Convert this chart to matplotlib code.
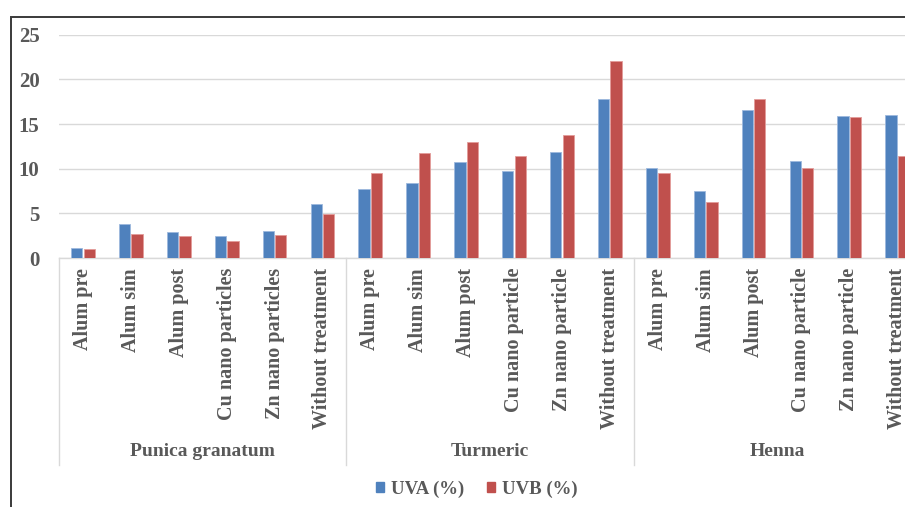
import numpy as np
import matplotlib
matplotlib.use("Agg")
import matplotlib.pyplot as plt
from matplotlib.patches import Patch, Rectangle
from matplotlib.lines import Line2D
import matplotlib.transforms as mtransforms

groups = ["Punica granatum", "Turmeric", "Henna"]
treatments = [
    ["Alum pre", "Alum sim", "Alum post", "Cu nano particles", "Zn nano particles", "Without treatment"],
    ["Alum pre", "Alum sim", "Alum post", "Cu nano particle", "Zn nano particle", "Without treatment"],
    ["Alum pre", "Alum sim", "Alum post", "Cu nano particle", "Zn nano particle", "Without treatment"],
]
uva = [1.17, 3.81, 2.92, 2.51, 3.07, 6.05,
       7.78, 8.41, 10.73, 9.72, 11.82, 17.76,
       10.06, 7.48, 16.56, 10.81, 15.89, 15.96]
uvb = [1.05, 2.73, 2.43, 1.95, 2.58, 4.93,
       9.57, 11.74, 12.97, 11.40, 13.72, 22.0,
       9.50, 6.32, 17.79, 10.06, 15.81, 11.40]
yticks = [0, 5, 10, 15, 20, 25]

BLUE = "#4F81BD"
RED = "#C0504D"
TXT = "#595959"
GRID = "#D9D9D9"
FONT = "Liberation Serif"

W, H = 905, 507
fig = plt.figure(figsize=(W / 100, H / 100), dpi=100)

# plot area in pixels: x0=59, zero line at 258, top (25) at 34.7, 47.9 px per category
px0, py0, ptop, cw = 59, 258, 34.7, 47.9
n = sum(len(t) for t in treatments)
ax = fig.add_axes([px0 / W, 1 - py0 / H, n * cw / W, (py0 - ptop) / H])

x = np.arange(n) + 0.5
bw = 0.235
ax.bar(x - 0.13, uva, bw, color=BLUE, edgecolor="#9DB9DE", linewidth=0.6, zorder=3)
ax.bar(x + 0.13, uvb, bw, color=RED, edgecolor="#E39C9A", linewidth=0.6, zorder=3)

ax.set_xlim(0, n)
ax.set_ylim(0, 25)
ax.set_yticks(yticks)
ax.set_yticklabels([str(v) for v in yticks], fontfamily=FONT, fontweight="bold",
                   fontsize=15, color=TXT)
ax.tick_params(axis="y", length=0, pad=14)
ax.set_xticks([])
ax.grid(axis="y", color=GRID, linewidth=1, zorder=0)
for s in ["top", "right", "left"]:
    ax.spines[s].set_visible(False)
ax.spines["bottom"].set_color(GRID)
ax.spines["bottom"].set_linewidth(1)

# two-level category axis below the bars
trans = mtransforms.blended_transform_factory(ax.transData, ax.transAxes)
pxh = py0 - ptop
k = 0
for g, names in zip(groups, treatments):
    for name in names:
        ax.text(k + 0.5, -(268 - py0) / pxh, name, rotation=90, ha="center", va="top",
                transform=trans, fontfamily=FONT, fontweight="bold", fontsize=14.5, color=TXT)
        k += 1
    ax.text(k - len(names) / 2, -(452 - py0) / pxh, g, ha="center", va="center",
            transform=trans, fontfamily=FONT, fontweight="bold", fontsize=14, color=TXT)
edges = np.cumsum([0] + [len(t) for t in treatments])
for e in edges:
    ax.add_line(Line2D([e, e], [0, -(465 - py0) / pxh], transform=trans, color=GRID,
                       linewidth=1, clip_on=False))

# chart border
fig.add_artist(Rectangle((10.5 / W, -0.1), 1.2, 1.1 - 16.5 / H, transform=fig.transFigure,
                         fill=False, edgecolor="#3A3A3A", linewidth=1.4))

handles = [Patch(color=BLUE, label="UVA (%)"), Patch(color=RED, label="UVB (%)")]
fig.legend(handles=handles, loc="center", bbox_to_anchor=(477 / W, 1 - 489 / H), ncol=2,
           frameon=False, handlelength=0.4, handleheight=0.4, handletextpad=0.4,
           columnspacing=1.2, prop={"family": FONT, "weight": "bold", "size": 13.5},
           labelcolor=TXT)

fig.savefig("out.png", dpi=100)
